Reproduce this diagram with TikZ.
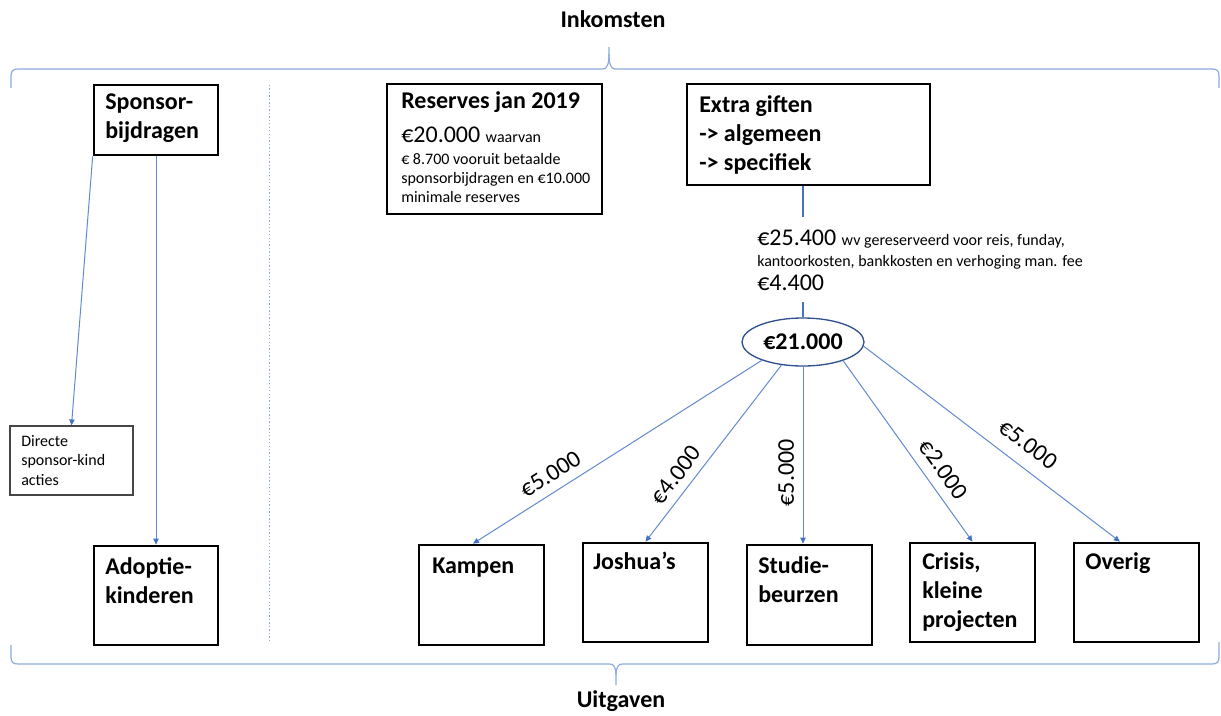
\documentclass[tikz,border=0pt]{standalone}
\usepackage{fontspec}
\setmainfont{Carlito}
\usetikzlibrary{arrows.meta,shapes.geometric}
\definecolor{ablue}{RGB}{68,114,196}
\definecolor{alblue}{RGB}{98,137,208}
\definecolor{lblue}{RGB}{143,170,220}
\definecolor{eblue}{RGB}{47,82,143}
\definecolor{gbox}{RGB}{70,70,70}
\begin{document}
\begin{tikzpicture}[x=0.75pt,y=-0.75pt,
  bbox/.style={draw=black,line width=2pt,inner sep=0pt},
  hd/.style={anchor=base west,inner sep=0pt,font=\fontsize{18}{22}\selectfont\bfseries},
  sm/.style={anchor=base west,inner sep=0pt,font=\fontsize{12}{14}\selectfont},
  big/.style={font=\fontsize{18}{22}\selectfont},
  arr/.style={draw=alblue,line width=0.75pt,-{Triangle[length=4.5pt,width=4pt,color=ablue]}},
  lbl/.style={sloped,above,inner sep=6.5pt,font=\fontsize{18}{22}\selectfont},
  brace/.style={draw=lblue,line width=0.9pt},
  thickc/.style={draw=ablue,line width=2.2pt},
]
\useasboundingbox (0,0) rectangle (1221,715);

% titles
\node[anchor=base,inner sep=0pt,font=\fontsize{18}{22}\selectfont\bfseries] (tin) at (613,27) {Inkomsten};
\node[anchor=base,inner sep=0pt,font=\fontsize{18}{22}\selectfont\bfseries] (tuit) at (621,707) {Uitgaven};

% braces
\draw[brace] (11,88) -- (11,76) .. controls (11,71) and (13,69) .. (18,69) -- (603,69)
  .. controls (607,69) and (609,64) .. (609,54) -- (609,47);
\draw[brace] (609,54) .. controls (609,64) and (611,69) .. (615,69) -- (1212,69)
  .. controls (1217,69) and (1219,71) .. (1219,76) -- (1219,88);
\draw[brace] (11,645) -- (11,657) .. controls (11,662) and (13,664) .. (18,664) -- (610,664)
  .. controls (614,664) and (616,668) .. (616,675) -- (616,685);
\draw[brace] (616,675) .. controls (616,668) and (618,664) .. (622,664) -- (1212,664)
  .. controls (1217,664) and (1219,662) .. (1219,657) -- (1219,642);

% separator
\draw[lblue,line width=0.75pt,dash pattern=on 1pt off 1.6pt] (269,85) -- (269,640);

% boxes
\node[bbox,minimum width=93pt,minimum height=52.5pt] (sponsor) at (156,120) {};
\node[bbox,minimum width=161.25pt,minimum height=97.5pt] (reserves) at (494.5,149) {};
\node[bbox,minimum width=182.25pt,minimum height=75.75pt] (extra) at (808.5,134.5) {};
\node[draw=gbox,line width=0.9pt,inner sep=0pt,minimum width=92.25pt,minimum height=51.75pt] (directe) at (71.5,460.5) {};
\node[bbox,minimum width=93pt,minimum height=74.25pt] (adoptie) at (156,595.5) {};
\node[bbox,minimum width=93.75pt,minimum height=75pt] (kampen) at (481.5,595) {};
\node[bbox,minimum width=93.75pt,minimum height=74.25pt] (joshua) at (645.5,592.5) {};
\node[bbox,minimum width=93.75pt,minimum height=75pt] (studie) at (809.5,595) {};
\node[bbox,minimum width=93.75pt,minimum height=74.25pt] (crisis) at (972.5,592.5) {};
\node[bbox,minimum width=93.75pt,minimum height=74.25pt] (overig) at (1136.5,592.5) {};
\node[draw=eblue,line width=1pt,ellipse,minimum width=91.5pt,minimum height=36pt,inner sep=0pt,
  font=\fontsize{18}{22}\selectfont\bfseries] (ell) at (803,342) {€21.000};

% box texts
\node[hd] (tsp1) at (105,109) {Sponsor-};
\node[hd] (tsp2) at (105,138) {bijdragen};
\node[hd] (tr1) at (401,108) {Reserves jan 2019};
\node[anchor=base west,inner sep=0pt] (tr2) at (401,142) {{\fontsize{18}{22}\selectfont €20.000 }{\fontsize{12}{14}\selectfont waarvan}};
\node[sm] (tr3) at (401,164) {€ 8.700 vooruit betaalde};
\node[sm] (tr4) at (401,183) {sponsorbijdragen en €10.000};
\node[sm] (tr5) at (401,202) {minimale reserves};
\node[hd] (te1) at (699,112) {Extra giften};
\node[hd] (te2) at (699,141) {-> algemeen};
\node[hd] (te3) at (699,170) {-> specifiek};
\node[sm] (td1) at (21,446) {Directe};
\node[sm] (td2) at (21,465) {sponsor-kind};
\node[sm] (td3) at (21,485) {acties};
\node[hd] (ta1) at (105,574) {Adoptie-};
\node[hd] (ta2) at (105,603) {kinderen};
\node[hd] (tk) at (432,573) {Kampen};
\node[hd] (tj) at (593,569) {Joshua’s};
\node[hd] (ts1) at (758,573) {Studie-};
\node[hd] (ts2) at (758,602) {beurzen};
\node[hd] (tc1) at (922,569) {Crisis,};
\node[hd] (tc2) at (922,598) {kleine};
\node[hd] (tc3) at (922,627) {projecten};
\node[hd] (to) at (1085,569) {Overig};

% middle text
\node[anchor=base west,inner sep=0pt] (tm1) at (757,245) {{\fontsize{18}{22}\selectfont €25.400 }{\fontsize{12}{14}\selectfont wv gereserveerd voor reis, funday,}};
\node[sm] (tm2) at (757,266) {kantoorkosten, bankkosten en verhoging man. fee};
\node[anchor=base west,inner sep=0pt,big] (tm3) at (757,290) {€4.400};

% connectors
\draw[arr] (sponsor.south west) -- (directe.north);
\draw[arr] (sponsor.south) -- (adoptie.north);
\coordinate (ga) at (803,217);
\coordinate (gb) at (803,302);
\draw[thickc] (ell.north |- extra.south) -- (ga);
\draw[thickc] (gb) -- (ell.north);

\draw[arr] (ell.204) -- node[lbl,pos=0.7,inner sep=6.8pt]{€5.000} ([xshift=-6.4pt]kampen.north);
\draw[arr] (ell.227) -- node[lbl,pos=0.68,inner sep=6.2pt]{€4.000} (joshua.north);
\draw[arr] (ell.south) -- node[pos=0.6,rotate=90,anchor=south,inner sep=6.3pt,font=\fontsize{18}{22}\selectfont]{€5.000} (ell.south |- studie.north);
\draw[arr] (ell.335) -- node[lbl,pos=0.66,inner sep=7.7pt]{€2.000} (crisis.north);
\draw[arr] (ell.356) -- node[lbl,pos=0.59,inner sep=10pt]{€5.000} ([xshift=-12.4pt]overig.north);
\end{tikzpicture}
\end{document}
